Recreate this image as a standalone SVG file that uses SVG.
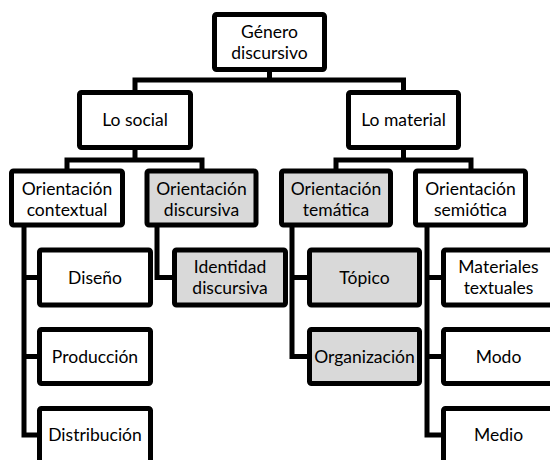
<svg xmlns="http://www.w3.org/2000/svg" width="550" height="460" viewBox="0 0 550 460">
<style>
.box{fill:#ffffff;stroke:#000000;stroke-width:5;}
.gray{fill:#d9d9d9;}
.lbl{font-family:Lato,"Liberation Sans",sans-serif;font-size:17.5px;fill:#000000;text-anchor:middle;}
.con{fill:none;stroke:#000000;stroke-width:5;stroke-linejoin:miter;stroke-linecap:butt;}
</style>
<rect width="550" height="460" fill="#ffffff"/>
<g id="connectors">
<path class="con" d="M269.5,72 V80 M135,90 V80 H403.5 V90"/>
<path class="con" d="M135,150 V160 M67,169 V160 H202 V169"/>
<path class="con" d="M403.5,150 V160 M336,169 V160 H471 V169"/>
<path class="con" d="M24,227 V435 H39 M24,277.5 H39 M24,356.5 H39"/>
<path class="con" d="M157,227 V277.5 H174"/>
<path class="con" d="M292,227 V356.5 H309 M292,277.5 H309"/>
<path class="con" d="M427,227 V435 H443 M427,277.5 H443 M427,356.5 H443"/>
</g>
<g id="n-genero"><rect class="box" x="214.5" y="14.5" width="110" height="55" rx="2"/><text class="lbl" x="269.5" y="37.5">Género</text><text class="lbl" x="269.5" y="58.5">discursivo</text></g>
<g id="n-social"><rect class="box" x="79.5" y="92.5" width="111" height="55" rx="2"/><text class="lbl" x="135" y="126">Lo social</text></g>
<g id="n-material"><rect class="box" x="348.5" y="92.5" width="110" height="55" rx="2"/><text class="lbl" x="403.5" y="126">Lo material</text></g>
<g id="n-contextual"><rect class="box" x="11.5" y="171" width="111" height="54" rx="2"/><text class="lbl" x="67" y="194.5">Orientación</text><text class="lbl" x="67" y="215.5">contextual</text></g>
<g id="n-discursiva"><rect class="box gray" x="147" y="171" width="109" height="54" rx="2"/><text class="lbl" x="201.5" y="194.5">Orientación</text><text class="lbl" x="201.5" y="215.5">discursiva</text></g>
<g id="n-tematica"><rect class="box gray" x="281.5" y="171" width="109" height="54" rx="2"/><text class="lbl" x="336" y="194.5">Orientación</text><text class="lbl" x="336" y="215.5">temática</text></g>
<g id="n-semiotica"><rect class="box" x="415.5" y="171" width="110" height="54" rx="2"/><text class="lbl" x="470.5" y="194.5">Orientación</text><text class="lbl" x="470.5" y="215.5">semiótica</text></g>
<g id="n-diseno"><rect class="box" x="39.5" y="250" width="111" height="55" rx="2"/><text class="lbl" x="95" y="283.5">Diseño</text></g>
<g id="n-produccion"><rect class="box" x="39.5" y="329.5" width="111" height="54" rx="2"/><text class="lbl" x="95" y="362.5">Producción</text></g>
<g id="n-distribucion"><rect class="box" x="39.5" y="408.5" width="111" height="70" rx="2"/><text class="lbl" x="95" y="441">Distribución</text></g>
<g id="n-identidad"><rect class="box gray" x="174.5" y="250" width="111" height="55" rx="2"/><text class="lbl" x="230" y="273">Identidad</text><text class="lbl" x="230" y="294">discursiva</text></g>
<g id="n-topico"><rect class="box gray" x="309.5" y="250" width="110" height="55" rx="2"/><text class="lbl" x="364.5" y="283.5">Tópico</text></g>
<g id="n-organizacion"><rect class="box gray" x="309.5" y="329.5" width="110" height="54" rx="2"/><text class="lbl" x="364.5" y="362.5">Organización</text></g>
<g id="n-materiales"><rect class="box" x="443.5" y="250" width="111" height="55" rx="2"/><text class="lbl" x="498.5" y="273">Materiales</text><text class="lbl" x="498.5" y="294">textuales</text></g>
<g id="n-modo"><rect class="box" x="443.5" y="329.5" width="111" height="54" rx="2"/><text class="lbl" x="498.5" y="362.5">Modo</text></g>
<g id="n-medio"><rect class="box" x="443.5" y="408.5" width="111" height="70" rx="2"/><text class="lbl" x="498.5" y="441">Medio</text></g>
</svg>
